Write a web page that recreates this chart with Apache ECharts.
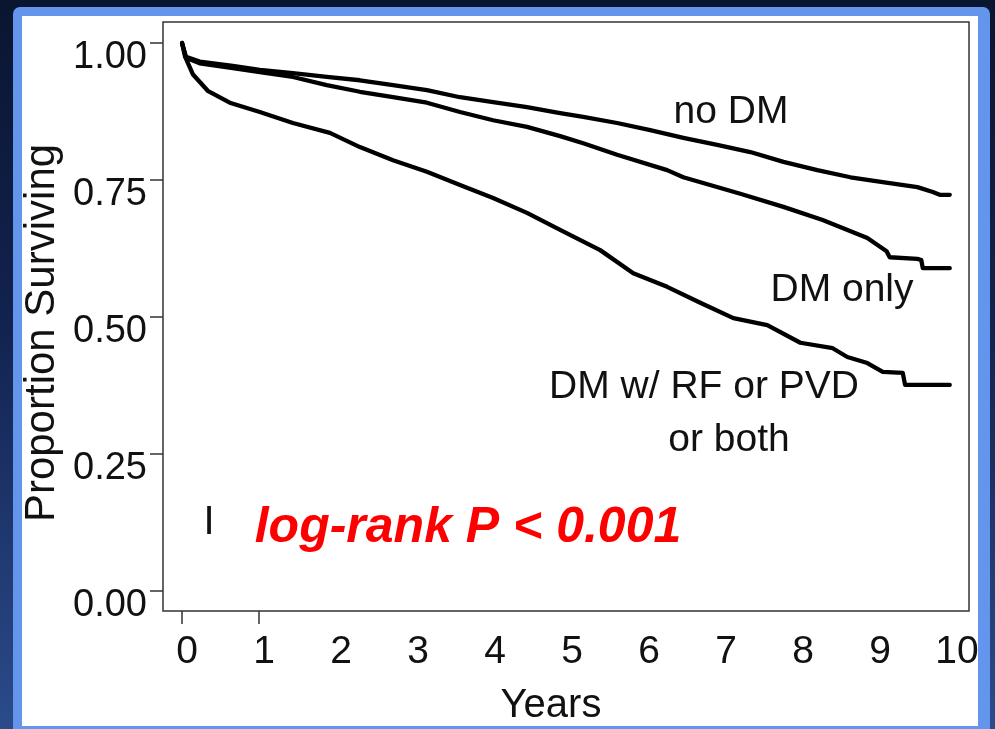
<!DOCTYPE html>
<html>
<head>
<meta charset="utf-8">
<script src="https://cdn.jsdelivr.net/npm/echarts@6/dist/echarts.min.js"></script>
<style>
html,body{margin:0;padding:0;width:995px;height:729px;overflow:hidden;
  background:linear-gradient(180deg,#0a1530 0%,#122350 45%,#2b4b8b 100%);}
#panel{position:absolute;left:13px;top:7px;width:977px;height:722px;box-sizing:border-box;
  border-style:solid;border-color:#6495ed;border-width:9px 12px 3px 9px;border-radius:7px 7px 0 0;background:#fff;}
#chart{position:absolute;left:0;top:0;width:995px;height:729px;}
</style>
</head>
<body>
<div id="panel"></div>
<div id="chart"></div>
<script>
// Years of follow-up and proportion surviving
const noDM_t = [0,0.02,0.05,0.23,0.66,1.01,1.44,1.88,2.31,2.74,3.18,3.61,4.04,4.48,4.91,5.21,5.65,6.08,6.51,6.95,7.38,7.81,8.25,8.68,9.10,9.55,9.75,9.84,9.97];
const noDM_s = [1.0,0.99,0.975,0.966,0.958,0.951,0.945,0.938,0.932,0.923,0.914,0.901,0.892,0.883,0.872,0.865,0.854,0.841,0.827,0.814,0.801,0.783,0.768,0.755,0.746,0.737,0.728,0.723,0.723];

const dmOnly_t = [0,0.02,0.05,0.23,0.66,1.01,1.44,1.88,2.31,2.74,3.18,3.61,4.04,4.48,4.91,5.21,5.65,6.30,6.51,7.25,7.81,8.32,8.90,9.15,9.19,9.55,9.60,9.62,9.97];
const dmOnly_s = [1.0,0.99,0.973,0.963,0.954,0.947,0.938,0.923,0.911,0.901,0.891,0.874,0.859,0.847,0.830,0.817,0.796,0.768,0.755,0.725,0.701,0.677,0.644,0.620,0.609,0.606,0.604,0.589,0.589];

const dmRF_t = [0,0.04,0.14,0.34,0.62,1.01,1.44,1.92,2.31,2.74,3.18,3.61,4.04,4.48,4.91,5.43,5.86,6.30,6.73,7.16,7.60,8.03,8.45,8.64,8.90,9.10,9.36,9.39,9.97];
const dmRF_s = [1.0,0.975,0.943,0.912,0.891,0.874,0.854,0.836,0.810,0.786,0.765,0.741,0.717,0.690,0.659,0.622,0.580,0.555,0.526,0.498,0.485,0.453,0.443,0.427,0.416,0.400,0.398,0.376,0.376];

const xTicks = [0,1,2,3,4,5,6,7,8,9,10];
const xTickMarks = [0,1];
const yTicks = [0,0.25,0.5,0.75,1];

function pairs(t, s){ return t.map((v,i)=>[v, s[i]]); }

const FONT = '"Liberation Sans", Arial, Helvetica, sans-serif';
const chart = echarts.init(document.getElementById('chart'), null, {renderer:'canvas'});

const lineSeries = (name, t, s) => ({
  name, type:'line', data:pairs(t,s), showSymbol:false, symbol:'none',
  smooth:false, lineStyle:{color:'#000', width:4.3, join:'round', cap:'round'}, silent:true, animation:false
});

chart.setOption({
  backgroundColor:'transparent',
  animation:false,
  grid:{left:163, right:26, top:22, bottom:118, show:true, borderColor:'#333', borderWidth:1.5, backgroundColor:'transparent'},
  xAxis:{
    type:'value', min:-0.247, max:10.22,
    axisLine:{show:false, onZero:false},
    splitLine:{show:false},
    axisTick:{show:true, inside:false, customValues:xTickMarks, length:13, lineStyle:{color:'#333', width:1.5}},
    axisLabel:{customValues:xTicks, fontFamily:FONT, fontSize:39, color:'#111', margin:22, lineHeight:38, padding:[0,0,0,10],
      formatter:v=>String(v)}
  },
  yAxis:{
    type:'value', min:-0.0365, max:1.0383,
    axisLine:{show:false, onZero:false},
    splitLine:{show:false},
    axisTick:{show:true, inside:false, customValues:yTicks, length:13, lineStyle:{color:'#333', width:1.5}},
    axisLabel:{customValues:yTicks, fontFamily:FONT, fontSize:38, color:'#111', margin:16, lineHeight:30, verticalAlign:'top',
      formatter:v=>v.toFixed(2)}
  },
  series:[
    lineSeries('no DM', noDM_t, noDM_s),
    lineSeries('DM only', dmOnly_t, dmOnly_s),
    lineSeries('DM w/ RF or PVD or both', dmRF_t, dmRF_s)
  ],
  graphic:[
    {type:'text', x:42, y:333, rotation:Math.PI/2, style:{text:'Proportion Surviving', font:'42px '+FONT, fill:'#111', align:'center', verticalAlign:'middle'}},
    {type:'text', x:551, y:706, style:{text:'Years', font:'40px '+FONT, fill:'#111', align:'center', verticalAlign:'middle'}},
    {type:'text', x:731, y:112, style:{text:'no DM', font:'39px '+FONT, fill:'#111', align:'center', verticalAlign:'middle'}},
    {type:'text', x:842, y:290, style:{text:'DM only', font:'39px '+FONT, fill:'#111', align:'center', verticalAlign:'middle'}},
    {type:'text', x:704, y:387, style:{text:'DM w/ RF or PVD', font:'39px '+FONT, fill:'#111', align:'center', verticalAlign:'middle'}},
    {type:'text', x:729, y:440, style:{text:'or both', font:'39px '+FONT, fill:'#111', align:'center', verticalAlign:'middle'}},
    {type:'text', x:209, y:523, style:{text:'I', font:'40px '+FONT, fill:'#111', align:'center', verticalAlign:'middle'}},
    {type:'text', x:468, y:528, style:{text:'log-rank P < 0.001', font:'italic bold 50px '+FONT, fill:'#ff0000', align:'center', verticalAlign:'middle'}}
  ]
});
</script>
</body>
</html>
